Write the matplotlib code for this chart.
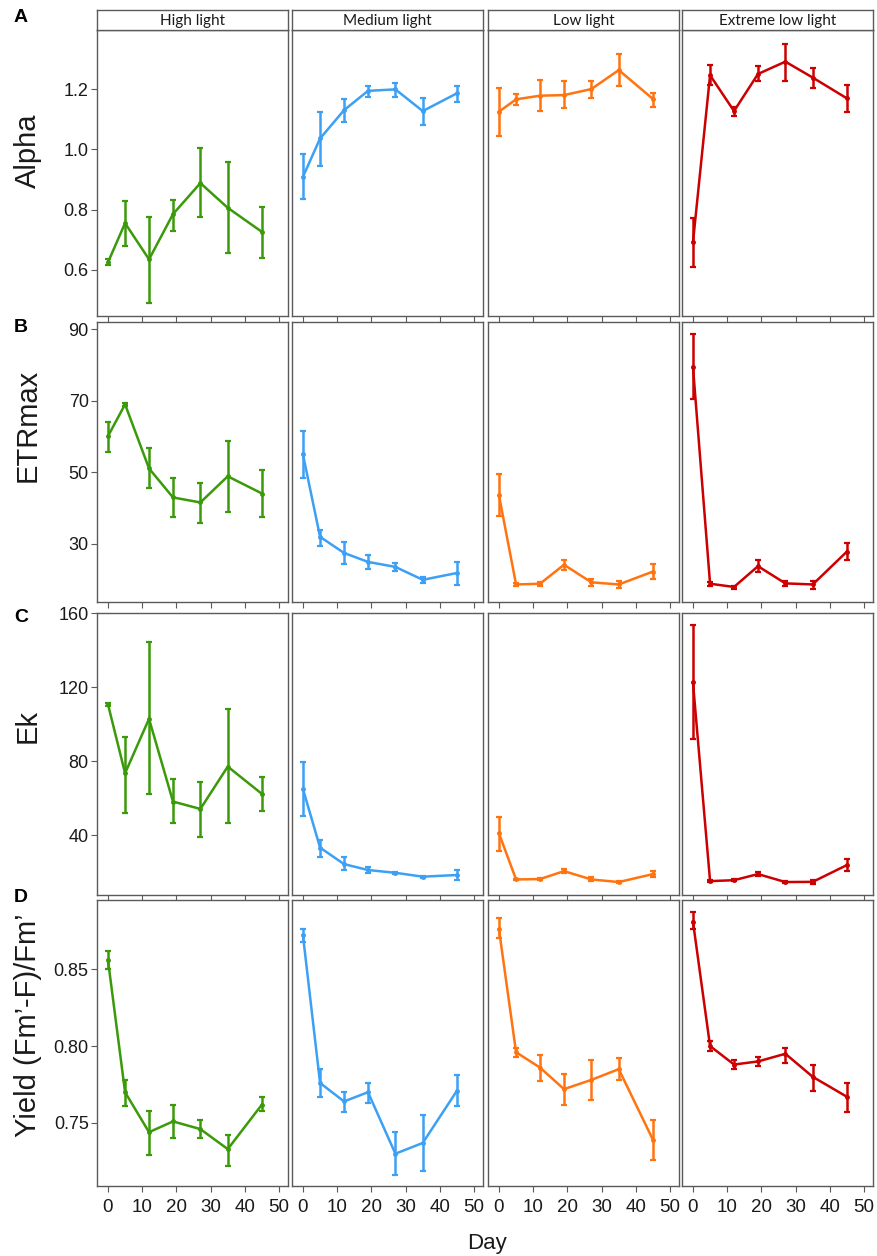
import numpy as np
import matplotlib
matplotlib.use("Agg")
import matplotlib.pyplot as plt

plt.rcParams["font.family"] = ["Liberation Sans", "DejaVu Sans"]

DAYS = [0, 5, 12, 19, 27, 35, 45]
CONDITIONS = ["High light", "Medium light", "Low light", "Extreme low light"]
COLORS = ["#3a9a0a", "#3ca0f5", "#ff7410", "#cc0000"]

# ---- values: mean, lower and upper error bound per condition ----
alpha_mean = [[0.625, 0.755, 0.635, 0.785, 0.888, 0.806, 0.726],
              [0.909, 1.036, 1.130, 1.194, 1.199, 1.127, 1.186],
              [1.125, 1.166, 1.178, 1.180, 1.200, 1.263, 1.167],
              [0.691, 1.246, 1.127, 1.250, 1.291, 1.238, 1.169]]
alpha_lo = [[0.617, 0.680, 0.489, 0.729, 0.777, 0.655, 0.639],
            [0.834, 0.945, 1.092, 1.175, 1.175, 1.081, 1.158],
            [1.045, 1.147, 1.127, 1.136, 1.172, 1.211, 1.141],
            [0.609, 1.213, 1.112, 1.227, 1.228, 1.204, 1.123]]
alpha_hi = [[0.635, 0.830, 0.775, 0.832, 1.003, 0.959, 0.810],
            [0.983, 1.125, 1.168, 1.210, 1.221, 1.171, 1.210],
            [1.202, 1.182, 1.230, 1.227, 1.227, 1.318, 1.188],
            [0.771, 1.280, 1.139, 1.276, 1.351, 1.269, 1.215]]

etr_mean = [[60.1, 69.0, 51.1, 43.0, 41.6, 48.9, 44.1],
            [55.0, 32.0, 27.5, 25.0, 23.6, 20.0, 21.9],
            [43.6, 18.7, 18.9, 24.2, 19.3, 18.7, 22.3],
            [79.5, 18.9, 18.0, 23.8, 19.0, 18.7, 27.9]]
etr_lo = [[55.7, 68.5, 45.7, 37.5, 35.9, 38.8, 37.5],
          [48.3, 29.4, 24.3, 23.1, 22.4, 19.1, 18.6],
          [37.7, 18.3, 18.2, 22.8, 18.4, 17.8, 20.3],
          [70.4, 18.4, 17.5, 22.3, 18.4, 17.3, 25.6]]
etr_hi = [[64.1, 69.3, 56.9, 48.3, 47.1, 58.8, 50.6],
          [61.5, 34.0, 30.6, 26.8, 24.7, 20.8, 25.1],
          [49.5, 19.1, 19.5, 25.6, 20.3, 19.8, 24.3],
          [88.6, 19.4, 18.4, 25.4, 19.6, 19.8, 30.3]]

ek_mean = [[110.7, 73.4, 102.8, 58.1, 54.1, 77.0, 62.2],
           [64.9, 33.2, 24.3, 21.1, 19.6, 17.5, 18.4],
           [40.9, 16.0, 16.2, 20.5, 16.0, 14.6, 18.9],
           [122.5, 15.1, 15.6, 18.9, 14.6, 14.7, 23.8]]
ek_lo = [[109.8, 52.1, 62.0, 46.3, 39.1, 46.3, 53.0],
         [50.5, 28.3, 21.1, 19.3, 19.1, 17.0, 15.6],
         [31.5, 15.5, 15.7, 19.6, 15.1, 14.1, 17.1],
         [91.8, 14.6, 15.1, 18.0, 14.1, 13.8, 20.5]]
ek_hi = [[111.6, 92.9, 144.1, 70.3, 68.9, 108.0, 71.2],
         [79.3, 37.3, 28.3, 22.5, 20.1, 18.0, 21.1],
         [49.9, 16.5, 16.7, 21.4, 17.1, 15.1, 20.7],
         [153.7, 15.6, 16.1, 19.8, 15.1, 15.6, 27.0]]

yield_mean = [[0.856, 0.770, 0.744, 0.751, 0.746, 0.733, 0.762],
              [0.872, 0.776, 0.764, 0.770, 0.730, 0.737, 0.771],
              [0.876, 0.796, 0.786, 0.772, 0.778, 0.785, 0.739],
              [0.881, 0.800, 0.788, 0.790, 0.795, 0.780, 0.767]]
yield_lo = [[0.850, 0.761, 0.729, 0.740, 0.740, 0.722, 0.758],
            [0.868, 0.767, 0.757, 0.763, 0.716, 0.719, 0.761],
            [0.870, 0.793, 0.777, 0.762, 0.765, 0.778, 0.726],
            [0.876, 0.797, 0.785, 0.787, 0.789, 0.771, 0.757]]
yield_hi = [[0.862, 0.778, 0.758, 0.762, 0.752, 0.742, 0.767],
            [0.876, 0.785, 0.770, 0.776, 0.744, 0.755, 0.781],
            [0.883, 0.799, 0.794, 0.782, 0.791, 0.792, 0.752],
            [0.887, 0.803, 0.791, 0.793, 0.799, 0.788, 0.776]]

ROW_LABELS = ["Alpha", "ETRmax", "Ek", "Yield (Fm\u2019-F)/Fm\u2019"]
ROW_LETTERS = ["A", "B", "C", "D"]
ROW_TICKS = [[0.6, 0.8, 1.0, 1.2], [30, 50, 70, 90], [40, 80, 120, 160], [0.75, 0.80, 0.85]]
ROW_TICKFMT = ["{:.1f}", "{:.0f}", "{:.0f}", "{:.2f}"]
ROW_YLIM = [(0.447, 1.396), (13.8, 92.0), (7.6, 160.0), (0.709, 0.895)]
XTICKS = [0, 10, 20, 30, 40, 50]

rows = [(alpha_mean, alpha_lo, alpha_hi), (etr_mean, etr_lo, etr_hi),
        (ek_mean, ek_lo, ek_hi), (yield_mean, yield_lo, yield_hi)]

W, H = 877, 1256
fig = plt.figure(figsize=(W / 100, H / 100), dpi=100)

col_left = [97, 292, 488, 682]
col_w = 191
row_span = [(30, 316), (322, 602), (613, 895), (900, 1186)]
label_y = [151, 425, 726, 1025]   # y-title centres (sit above panel centres in the original)
letter_y = [18, 328, 618, 897]
frame_c = "#5a5a5a"


def px_axes(x0, y0, x1, y1):
    return fig.add_axes([x0 / W, 1 - y1 / H, (x1 - x0) / W, (y1 - y0) / H])


for r, (mean, lo, hi) in enumerate(rows):
    top, bot = row_span[r]
    for c in range(4):
        ax = px_axes(col_left[c], top, col_left[c] + col_w, bot)
        m = np.array(mean[c]); l = np.array(lo[c]); h = np.array(hi[c])
        ax.errorbar(DAYS, m, yerr=[m - l, h - m], color=COLORS[c], lw=1.8,
                    elinewidth=1.8, capsize=2.5, capthick=1.6, marker="o", ms=2.5)
        ax.set_xlim(-3.2, 52.6)
        ax.set_ylim(*ROW_YLIM[r])
        ax.set_xticks(XTICKS)
        for s in ax.spines.values():
            s.set_color(frame_c); s.set_linewidth(1.0)
        ax.tick_params(axis="both", direction="out", length=4, width=0.8, color=frame_c,
                       labelsize=13, labelcolor="#1a1a1a", pad=2)
        if r < 3:
            ax.set_xticklabels([])
        else:
            ax.tick_params(axis="x", labelsize=13.5, pad=5)
        if c == 0:
            ax.set_yticks(ROW_TICKS[r])
            ax.set_yticklabels([ROW_TICKFMT[r].format(v) for v in ROW_TICKS[r]])
        else:
            ax.set_yticks([])
        if r == 0:
            sx = px_axes(col_left[c], 10, col_left[c] + col_w, 30)
            sx.set_xticks([]); sx.set_yticks([])
            for s in sx.spines.values():
                s.set_color(frame_c); s.set_linewidth(1.0)
            sx.text(0.5, 0.45, CONDITIONS[c], ha="center", va="center", fontsize=11,
                    family=["Lato", "DejaVu Sans"], color="#1a1a1a", transform=sx.transAxes)

    fig.text(28 / W, 1 - label_y[r] / H, ROW_LABELS[r], rotation=90, ha="center", va="center",
             fontsize=21, color="#1a1a1a")
    fig.text(14 / W, 1 - letter_y[r] / H, ROW_LETTERS[r],
             ha="left", va="center", fontsize=14, fontweight="bold")

fig.text(487 / W, 1 - 1244 / H, "Day", ha="center", va="center", fontsize=16, color="#1a1a1a")

fig.savefig("out.png", dpi=100)
